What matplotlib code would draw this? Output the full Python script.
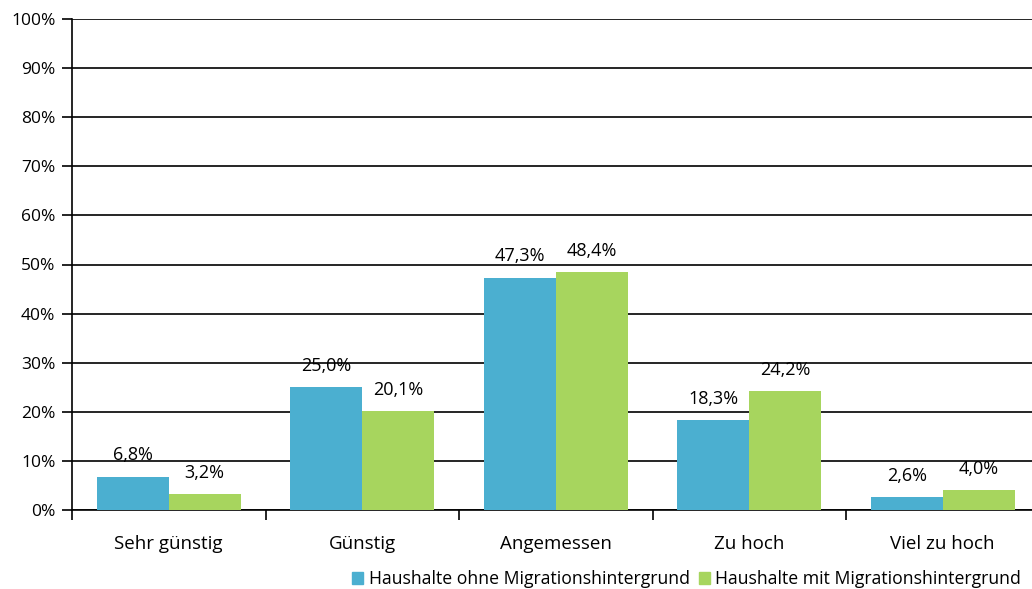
import matplotlib
matplotlib.use("Agg")
import matplotlib.pyplot as plt
from matplotlib.patches import Patch
import numpy as np

categories = ["Sehr günstig", "Günstig", "Angemessen", "Zu hoch", "Viel zu hoch"]
ohne = [6.8, 25.0, 47.3, 18.3, 2.6]
mit = [3.2, 20.1, 48.4, 24.2, 4.0]
series_names = ["Haushalte ohne Migrationshintergrund", "Haushalte mit Migrationshintergrund"]
yticks = list(range(0, 101, 10))

c_blue = "#4BAFD0"
c_green = "#A7D55E"

plt.rcParams['font.family'] = ['Open Sans', 'DejaVu Sans']

fig = plt.figure(figsize=(10.32, 5.89), dpi=100)
ax = fig.add_axes([72/1032, 1 - 510/589, 967.5/1032, 491/589])

x = np.arange(len(categories))
w = 0.372
ax.bar(x - w/2, ohne, w, color=c_blue, zorder=3)
ax.bar(x + w/2, mit, w, color=c_green, zorder=3)

def fmt(v):
    return f"{v:.1f}".replace(".", ",") + "%"

for xi, v in zip(x - w/2, ohne):
    ax.annotate(fmt(v), (xi, v), xytext=(0, 9), textcoords="offset points",
                ha="center", va="bottom", fontsize=13, zorder=4)
for xi, v in zip(x + w/2, mit):
    ax.annotate(fmt(v), (xi, v), xytext=(0, 9), textcoords="offset points",
                ha="center", va="bottom", fontsize=13, zorder=4)

ax.set_xlim(-0.5, len(categories) - 0.5)
ax.set_ylim(0, 100)
ax.set_yticks(yticks)
ax.set_yticklabels([f"{t}%" for t in yticks], fontsize=12.5)
ax.yaxis.grid(True, color="black", linewidth=1.2, zorder=1)
ax.set_axisbelow(True)

ax.set_xticks(x)
ax.set_xticklabels(categories, fontsize=13.5)
ax.tick_params(axis="x", which="major", length=0, pad=18)
ax.set_xticks(np.arange(-0.5, len(categories), 1), minor=True)
ax.tick_params(axis="x", which="minor", length=7, width=1.2, direction="out", color="black")
ax.tick_params(axis="y", length=7, width=1.2, pad=5, color="black")

for s in ["top", "right"]:
    ax.spines[s].set_visible(False)
ax.spines["left"].set_linewidth(1.2)
ax.spines["bottom"].set_linewidth(1.2)

handles = [Patch(color=c_blue), Patch(color=c_green)]
fig.legend(handles, series_names, loc="center left",
           bbox_to_anchor=(352/1032, 1 - 579/589), ncol=2, frameon=False,
           fontsize=12.7, handlelength=0.65, handleheight=0.65,
           handletextpad=0.3, columnspacing=0.5, borderaxespad=0, borderpad=0)

fig.savefig("out.png", dpi=100)
